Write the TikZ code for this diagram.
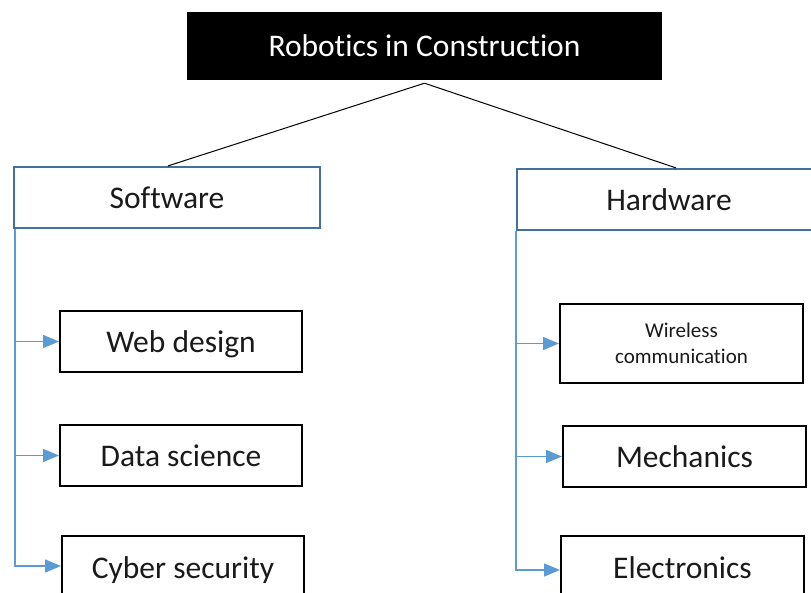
\documentclass[tikz,border=0pt]{standalone}
\usepackage{fontspec}
\setmainfont[Ligatures=NoCommon]{Carlito}
\usetikzlibrary{arrows.meta}
\definecolor{boxblue}{HTML}{41719C}
\definecolor{lineblue}{HTML}{5B9BD5}
\definecolor{txt}{HTML}{1A1A1A}
\tikzset{
  big/.style={font=\fontsize{31.5}{37}\selectfont, text height=21pt, text depth=0pt},
  titlebox/.style={rectangle, fill=black, draw=none, text=white, big, text height=20pt, minimum width=475pt, minimum height=68pt, inner sep=0pt},
  catbox/.style={rectangle, draw=boxblue, line width=2.2pt, fill=white, text=txt, big, minimum height=61pt, inner sep=0pt},
  leafbox/.style={rectangle, draw=black, line width=2pt, fill=white, text=txt, big, minimum width=242pt, minimum height=61pt, inner sep=0pt},
  treeline/.style={draw=black, line width=1pt},
  branch/.style={draw=lineblue, line width=1.4pt, -{Triangle[length=16pt,width=13pt,fill=lineblue]}},
}
\begin{document}
\begin{tikzpicture}[x=1pt,y=-1pt]
\clip (0,0) rectangle (811,592);
\fill[white] (0,0) rectangle (811,592);
\node[titlebox] (title) at (424.5,46) {Robotics in Construction};
\node[catbox, minimum width=306pt] (soft) at (167,197.5) {Software};
\node[catbox, minimum width=304pt] (hard) at (669,199.5) {Hardware};
\node[leafbox] (web) at (181,341.5) {Web design};
\node[leafbox] (data) at (181,455.5) {Data science};
\node[leafbox, minimum height=64pt] (cyber) at (183,568) {Cyber security};
\node[leafbox, minimum width=243pt, minimum height=79pt, font=\fontsize{21}{26}\selectfont, text height=39pt, text depth=0pt, align=center] (wire) at (681.5,343.5) {Wireless\\communication};
\node[leafbox, minimum width=243pt] (mech) at (684.5,456.5) {Mechanics};
\node[leafbox, minimum width=243pt, minimum height=64pt] (elec) at (682.5,568) {Electronics};
\coordinate (apex) at ([yshift=-3pt]title.south);
\draw[treeline] (apex) -- ([xshift=1pt]soft.north);
\draw[treeline] (apex) -- ([xshift=7pt]hard.north);
\draw[branch] ([xshift=2pt]soft.south west) |- (web.west);
\draw[branch] ([xshift=2pt]soft.south west) |- (data.west);
\draw[branch] ([xshift=2pt]soft.south west) |- ([yshift=2pt]cyber.west);
\draw[branch] (hard.south west) |- (wire.west);
\draw[branch] (hard.south west) |- (mech.west);
\draw[branch] (hard.south west) |- ([yshift=-2pt]elec.west);
\end{tikzpicture}
\end{document}
